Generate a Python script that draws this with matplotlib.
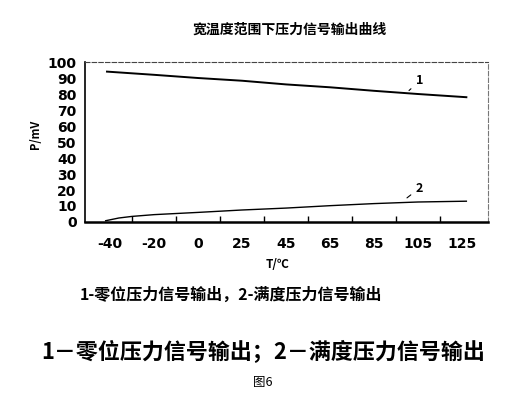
import numpy as np
import matplotlib.pyplot as plt

plt.rcParams['font.family'] = ['Noto Sans CJK SC', 'DejaVu Sans']

# temperature tick labels (evenly spaced in the original figure)
temp_labels = ['-40', '-20', '0', '25', '45', '65', '85', '105', '125']

# curve 1: zero-point pressure output, curve 2: full-scale pressure output
pos1 = [-0.07, 1, 2, 3, 4, 5, 6, 7, 8.1]
zero_out = [94, 92, 90, 88.3, 86, 84.2, 82, 80, 78]
pos2 = [-0.1, 0.2, 0.5, 1, 2, 3, 4, 5, 6, 7, 8.1]
full_out = [0.8, 2.5, 3.5, 4.6, 6, 7.5, 8.7, 10.2, 11.5, 12.5, 13]

fig = plt.figure(figsize=(5.26, 3.96), dpi=100)
ax = fig.add_axes([0.1616, 0.4394, 0.766, 0.404])

ax.plot(pos1, zero_out, color='black', lw=1.4)
ax.plot(pos2, full_out, color='black', lw=1.0)

ax.set_xlim(-0.57, 8.59)
ax.set_ylim(0, 100)
ax.set_xticks(range(len(temp_labels)))
ax.set_xticklabels(temp_labels)
ax.set_xticks(np.arange(0.5, 8, 1), minor=True)
ax.set_yticks(range(0, 101, 10))
ax.tick_params(axis='both', which='major', length=0, labelsize=10, pad=6)
ax.tick_params(axis='x', which='major', pad=11)
ax.tick_params(axis='x', which='minor', direction='in', length=4, width=1)
for lab in ax.get_xticklabels() + ax.get_yticklabels():
    lab.set_fontweight('bold')
    lab.set_family('DejaVu Sans')

ax.spines['top'].set_linestyle((0, (4, 2)))
ax.spines['right'].set_linestyle((0, (4, 2)))
ax.spines['top'].set_color('#444444')
ax.spines['right'].set_color('#777777')
ax.spines['left'].set_linewidth(1.2)
ax.spines['bottom'].set_linewidth(1.8)

# curve labels with short leader lines
ax.annotate('1', xy=(6.75, 81), xytext=(6.95, 86), fontsize=9, fontweight='bold',
            arrowprops=dict(arrowstyle='-', color='black', lw=0.8))
ax.annotate('2', xy=(6.7, 14), xytext=(6.95, 19), fontsize=9, fontweight='bold',
            arrowprops=dict(arrowstyle='-', color='black', lw=0.8))

fig.text(0.551, 0.924, '宽温度范围下压力信号输出曲线', ha='center', va='center',
         fontsize=10, fontweight='bold')
fig.text(0.068, 0.66, 'P/mV', rotation=90, ha='center', va='center',
         fontsize=8, fontweight='bold')
fig.text(0.527, 0.331, 'T/℃', ha='center', va='center', fontsize=8.5, fontweight='bold')
fig.text(0.152, 0.255, '1-零位压力信号输出，2-满度压力信号输出', ha='left', va='center',
         fontsize=11.5, fontweight='bold')
fig.text(0.5, 0.11, '1－零位压力信号输出；2－满度压力信号输出', ha='center', va='center',
         fontsize=15.8, fontweight='bold')
fig.text(0.5, 0.035, '图6', ha='center', va='center', fontsize=9)

fig.savefig('out.png', dpi=100)
